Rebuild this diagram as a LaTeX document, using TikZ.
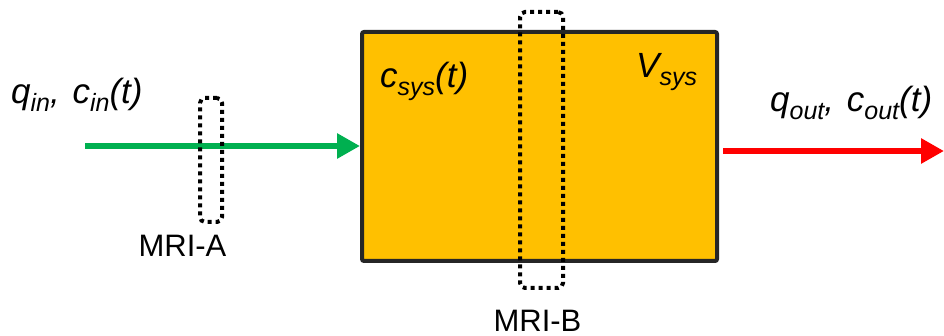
\documentclass[tikz,border=0pt]{standalone}
\usepackage{fontspec}
\setmainfont{Liberation Sans}
\usetikzlibrary{arrows.meta}
\definecolor{sysfill}{HTML}{FFC000}
\definecolor{sysline}{HTML}{262626}
\definecolor{ingreen}{HTML}{00B050}
\definecolor{outred}{HTML}{FF0000}
\newcommand{\sbx}[1]{\raisebox{-8pt}{\fontsize{25}{25}\selectfont #1}}
\begin{document}
\begin{tikzpicture}[x=1pt,y=-1pt,
  lbl/.style={inner sep=0pt, font=\fontsize{35}{40}\selectfont\itshape},
  mri/.style={inner sep=0pt, font=\fontsize{31}{37}\selectfont},
  probe/.style={draw=black, line width=4pt, dash pattern=on 4pt off 4pt, rounded corners=5pt, inner sep=0pt},
  flow/.style={line width=6pt, -{Triangle[length=23pt,width=24pt]}},
  ]
\useasboundingbox (0,0) rectangle (944,336);
\node[draw=sysline, fill=sysfill, line width=4pt, rounded corners=2pt,
      minimum width=355pt, minimum height=229pt, inner sep=0pt] (sys) at (539.5,146.5) {};
\coordinate (inS) at (85,146);
\draw[flow, ingreen] (inS) -- (inS -| sys.west);
\coordinate (outS) at (723,151);
\coordinate (outE) at (944,151);
\draw[flow, outred] (outS) -- (outE);
\node[probe, minimum width=22pt, minimum height=124pt] (mriA) at (211,160) {};
\node[probe, minimum width=43pt, minimum height=276pt] (mriB) at (541.5,150) {};
\node[lbl, anchor=base west] (qin) at (11,104) {q\sbx{in},\hspace{3pt} c\sbx{in}(t)};
\node[lbl, anchor=base west] (csys) at (380,88) {c\sbx{sys}(t)};
\node[lbl, anchor=base west] (vsys) at (636,78) {V\sbx{sys}};
\node[lbl, anchor=base west] (qout) at (770,112) {q\sbx{out},\hspace{3pt} c\sbx{out}(t)};
\node[mri, anchor=base] (la) at (182.5,257) {MRI-A};
\node[mri, anchor=base] (lb) at (537.5,331) {MRI-B};
\end{tikzpicture}
\end{document}
